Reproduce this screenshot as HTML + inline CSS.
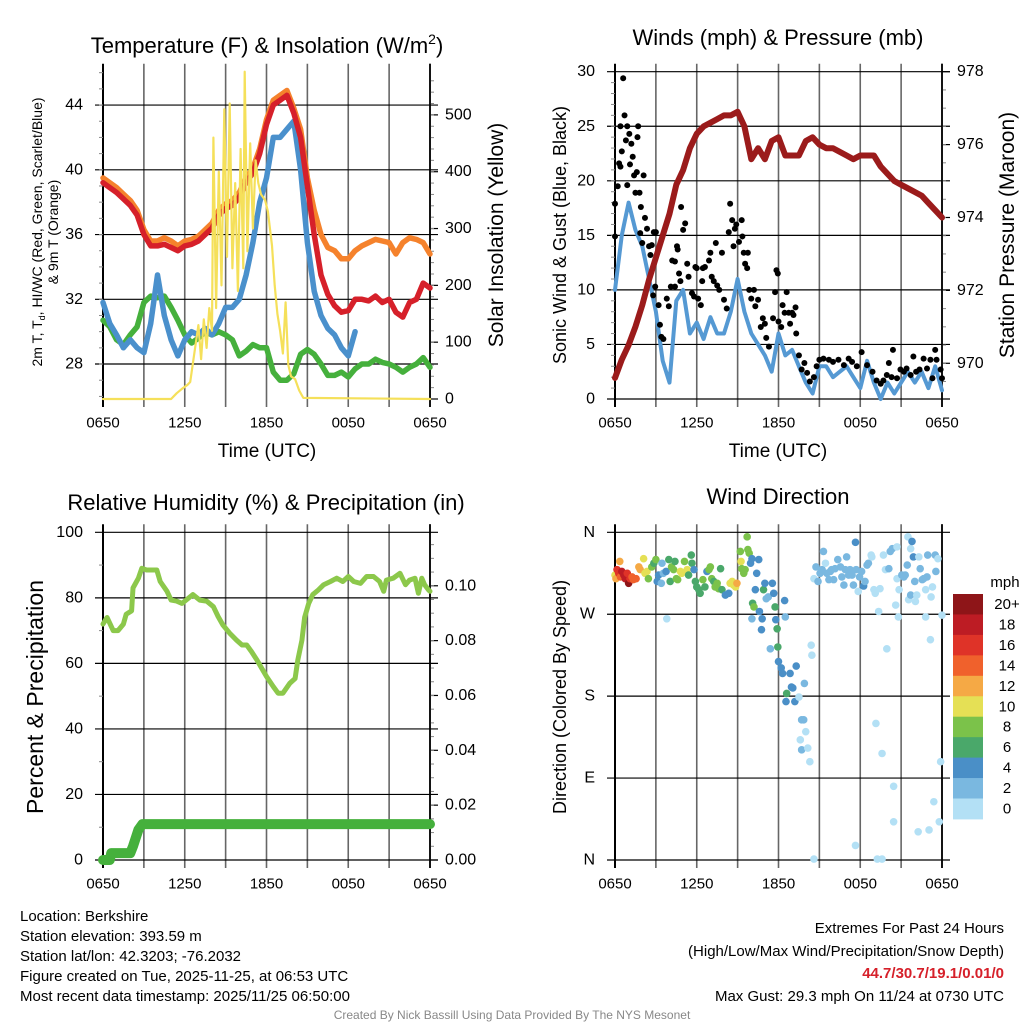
<!DOCTYPE html>
<html><head><meta charset="utf-8"><style>
html,body{margin:0;padding:0;background:#fff;}
svg{display:block;font-family:"Liberation Sans",Arial,sans-serif;}
</style></head><body>
<svg id="c" width="1024" height="1024" viewBox="0 0 1024 1024"></svg>
<script>
// ---------- DATA ----------
const xTickLabels = ["0650","1250","1850","0050","0650"];
const halfHours = [0,0.5,1,1.5,2,2.5,3,3.5,4,4.5,5,5.5,6,6.5,7,7.5,8,8.5,9,9.5,10,10.5,11,11.5,12,12.5,13,13.5,14,14.5,15,15.5,16,16.5,17,17.5,18,18.5,19,19.5,20,20.5,21,21.5,22,22.5,23,23.5,24];
const temp2m = [39.2,38.9,38.6,38.2,37.8,37.2,36,35.3,35.3,35.4,35.2,35.0,35.3,35.4,35.6,36.0,36.4,37.2,37.6,37.8,38.3,39.2,39.8,41.0,42.8,44.0,44.3,44.6,43.5,42.0,39.0,36.0,33.5,32.3,31.6,31.2,31.3,32.0,32.0,31.9,32.2,31.8,32.0,31.2,30.9,31.8,32.0,33.0,32.7];
const temp9m = [39.5,39.2,38.9,38.5,38.1,37.5,36.3,35.6,35.6,35.8,35.6,35.3,35.6,35.7,35.9,36.3,36.7,37.5,37.9,38.1,38.6,39.5,40.1,41.3,43.1,44.3,44.6,44.9,43.8,42.5,39.5,37.5,36.0,35.2,35.0,34.5,34.5,35.0,35.3,35.5,35.7,35.6,35.5,34.8,35.5,35.8,35.7,35.5,34.8];
const dewpoint = [30.7,30.3,29.5,29.2,29.8,30.3,31.8,32.2,32.1,32.2,31.5,30.7,29.8,29.3,29.6,30.0,29.8,30.0,29.8,29.5,28.5,28.8,29.2,29.0,29.0,27.5,27.0,27.0,27.4,28.6,28.9,28.6,28.0,27.3,27.3,27.5,27.2,27.7,28.0,28.0,28.3,28.1,28.0,27.8,27.5,27.8,28.0,28.4,27.8];
const windChill = [31.8,30.5,29.8,29.0,29.5,29.0,28.7,30.5,33.5,31.0,29.5,28.5,29.5,30.0,29.8,30.2,29.8,30.5,31.5,31.5,32.0,33.5,35.5,38.0,39.5,42.0,42.0,42.5,43.0,40.0,35.5,32.5,31.0,30.2,29.8,29.0,28.5,30.0,null,null,null,null,null,null,null,null,null,null,null];
const solarTimes = [0,5.0,5.4,5.8,6.2,6.4,6.7,7.0,7.2,7.4,7.6,7.8,8.0,8.1,8.3,8.5,8.7,8.9,9.1,9.3,9.5,9.7,9.9,10.1,10.3,10.4,10.6,10.8,11.0,11.2,11.4,11.6,11.9,12.1,12.4,12.6,12.8,13.0,13.2,13.4,13.6,13.8,14.1,14.4,14.7,24];
const solarVals = [0,0,10,18,25,30,80,130,70,140,90,160,120,460,160,400,200,510,250,520,230,380,190,440,230,576,260,450,300,420,380,360,350,330,270,200,150,120,80,170,60,40,35,15,2,0];
const pressure = [969.6,970.1,970.5,971.0,971.6,972.3,972.9,973.5,974.1,974.9,975.3,975.9,976.3,976.5,976.6,976.7,976.8,976.8,976.9,976.5,975.6,975.9,975.6,976.1,976.2,975.7,975.7,975.7,976.1,976.2,976.0,975.9,975.9,975.8,975.7,975.6,975.7,975.7,975.7,975.4,975.2,975.0,974.9,974.8,974.7,974.6,974.4,974.2,974.0];
const windSpeed = [10,15,18,15.5,14,11,8,3.5,1.5,9,10,6,7,5.5,7.5,6,6,8,11,8,6,5,4,2.5,6,4,4.5,3,1.5,0.5,3,3,2,2.5,3,2,1,3.5,1.5,0,1.5,0.5,1.5,2.5,1.5,2.5,1,3,0.8];
const gustTimes = [0,0,0.2,0.4,0.6,0.5,0.7,0.8,0.9,0.3,0.4,1.05,1.1,1.2,1.3,0.9,1.4,1.6,1.7,1.65,1.5,1.8,1.9,2.1,2.2,1.85,2.0,2.35,2.5,2.6,2.7,2.85,3.0,2.95,2.8,3.2,3.3,3.4,3.55,3.8,3.95,4.1,4.4,4.2,4.4,4.55,4.6,4.7,4.85,5.0,5.15,4.8,5.3,5.4,5.65,5.8,5.9,6.0,6.1,6.3,6.45,6.6,6.4,6.9,7.0,7.1,7.25,7.4,7.5,7.65,7.85,8.0,8.2,8.35,8.45,8.6,8.7,8.8,8.9,9.1,9.3,9.35,9.45,9.55,9.7,9.75,9.85,10.0,10.2,10.3,10.5,10.7,10.85,11.0,11.1,11.3,11.6,11.75,11.85,11.95,12.0,12.2,12.3,12.45,12.6,12.75,12.85,13.0,13.1,13.25,13.3,13.5,13.7,13.9,14.1,14.3,14.6,14.8,15.0,15.3,15.7,16.0,16.4,16.8,17.15,17.4,17.75,18.1,18.5,18.9,19.2,19.5,19.7,19.95,20.1,20.3,20.4,20.7,20.95,21.2,21.4,21.7,21.9,22.1,22.35,22.65,22.9,23.15,23.3,23.5,23.6,23.9,24];
const gustVals = [17.9,14.9,19.5,25,29.4,22.7,26,23.7,25,21.6,21.3,24.3,21.5,23.4,22.2,19.6,20.5,20.8,25,24,18.9,18.9,17.6,20.5,16.6,15.2,14.3,15.6,14.0,13.2,14.1,15.3,15.3,10.3,9.5,8.6,6.8,5.7,5.5,9.2,8.5,10.3,10.3,12.7,12.6,14,13.7,11.5,17.6,15.5,16.1,10.8,12.4,11.2,9.7,9.4,12.1,12,9.2,8.6,12,12.1,10.8,12.7,13.4,11.2,10.8,14.3,10.4,10,13.4,9.1,8.3,15.3,17.9,16.4,14,15.6,16,14.4,16.4,14.9,13.4,12.4,12,13.4,10,9.2,10,8.5,9.1,6.6,7.4,6.9,5.6,4.8,7.4,9.8,11.8,11.5,7.1,6.6,8.6,7.9,9.8,7.9,6.9,7.9,7.7,8.4,6.0,4.0,2.7,3.3,2.4,1.6,2.0,3.0,3.6,3.7,3.6,3.4,3.6,3.1,3.7,3.4,3.0,4.3,3.1,2.5,1.7,1.4,1.7,2.2,3.3,2.0,4.5,1.9,2.7,2.5,2.8,2.2,3.9,2.5,2.7,3.7,2.8,3.6,1.9,4.5,3.6,2.7,1.9];
const rhTimes = [0,0.3,0.75,1.1,1.5,1.7,2.1,2.2,2.6,2.85,3.2,3.7,3.95,4.2,4.7,5.0,5.4,5.8,6.1,6.6,7.1,7.6,8.1,8.45,8.8,9.3,9.8,10.2,10.55,10.9,11.3,11.65,12.0,12.5,12.85,13.2,13.7,14.1,14.3,14.6,14.8,15.1,15.4,15.8,16.2,16.7,17.15,17.6,18.0,18.4,18.9,19.35,19.85,20.3,20.6,20.8,21.3,21.8,22.2,22.5,22.9,23.15,23.4,23.6,23.9,24];
const rhVals = [72,74,70,70,72,75,76,83,86,89,88.5,88.5,88.5,85,82,79.3,79,78.3,79.3,81,79.3,79,77.3,74.3,71.7,69.2,67.1,65.6,65.6,63.6,61,58.5,56,52.9,50.9,50.9,53.9,55.4,61,67,74,78.3,81,82.4,84,85,86,85,86.5,85,84.4,86.5,86.5,85,82,85.4,86,87.5,84,85.4,86,81.4,86,84,82.4,82];
const precipTimes = [0,0.5,0.6,2.0,2.2,2.4,2.6,2.9,24];
const precipVals = [0,0,0.0025,0.0025,0.005,0.008,0.011,0.0131,0.0131];
const dirTimes = [0,0.07,0.15,0.27,0.4,0.5,0.65,0.75,0.9,1.0,1.1,1.25,1.35,1.55,0.35,1.75,1.85,2.1,2.2,2.35,2.45,2.7,2.85,3.0,3.1,3.2,3.4,3.45,3.55,3.75,3.8,3.95,4.05,4.15,4.3,4.4,4.5,4.6,4.8,4.9,5.1,5.3,5.4,5.6,5.65,5.8,5.9,6.0,6.15,6.25,6.45,6.6,6.75,6.9,7.0,7.1,7.25,7.35,7.5,7.6,7.75,7.85,8.1,8.35,8.45,8.6,8.7,8.85,8.95,9.2,9.25,9.3,9.45,9.55,9.7,9.75,9.85,9.95,10.05,10.3,10.4,10.55,10.1,10.2,10.6,10.05,10.8,10.75,10.9,11.0,11.1,11.25,11.4,11.55,11.65,11.75,11.8,11.9,11.95,12.0,12.2,12.3,12.45,12.5,12.6,12.55,12.95,13.05,13.2,12.85,13.3,13.5,13.7,13.85,13.9,14.0,13.6,13.7,14.15,14.3,14.4,14.45,14.6,14.6,14.75,14.9,15.05,15.2,15.3,15.45,15.55,15.7,15.8,15.9,16.05,16.15,16.35,16.55,16.65,16.8,16.9,17.0,17.15,17.25,17.4,17.5,17.65,17.7,17.85,17.95,18.1,18.25,18.35,18.5,18.6,18.8,18.85,19.0,19.1,19.15,19.35,19.45,19.6,19.25,19.6,17.65,19.7,19.85,19.95,20.1,20.2,20.35,20.45,20.45,20.6,20.7,20.7,20.8,20.85,21.05,21.2,21.3,21.45,21.5,21.7,21.8,21.55,21.7,21.9,22.0,22.05,22.15,22.25,22.3,22.4,22.55,22.65,22.8,22.8,22.9,22.95,23.05,23.15,23.2,23.3,23.4,23.5,23.55,23.7,23.8,23.9,24.0];
const dirVals = [313,309,319,315,311,317,313,309,315,304,309,311,308,309,328,322,319,331,315,317,309,322,326,330,306,313,304,326,315,317,265,330,306,322,319,328,309,308,317,315,328,319,313,335,326,319,306,300,297,293,308,300,317,319,322,309,306,300,304,298,320,297,291,293,304,306,302,300,304,339,328,320,315,319,355,341,337,326,331,297,315,330,282,278,273,265,265,253,297,304,287,289,232,304,293,278,264,254,234,218,211,205,285,267,183,174,190,189,174,205,213,179,154,154,194,141,132,121,123,108,236,225,1,309,322,306,315,319,339,326,315,308,317,319,308,320,330,322,311,302,319,333,313,319,313,302,349,319,295,311,317,301,306,324,326,335,333,297,293,150,273,298,117,1,1,16,335,319,232,320,339,342,81,42,280,309,344,267,297,313,311,313,324,355,342,350,286,291,333,306,284,291,31,333,320,308,309,267,297,311,335,33,242,289,300,64,335,317,331,42,108,269];
const dirSpeeds = [10,12,16,16,14,18,18,18,16,20,16,14,14,14,12,12,12,10,10,10,8,8,6,8,4,4,2,2,2,4,0,6,6,8,8,6,8,8,10,10,8,10,6,6,6,4,6,6,6,6,8,6,4,8,8,8,6,8,8,8,6,6,4,4,10,10,10,10,12,8,10,8,8,8,8,8,8,4,4,4,4,4,6,8,4,2,4,4,6,4,2,2,2,4,4,6,4,6,6,4,4,4,4,2,6,4,4,4,4,4,4,0,2,2,2,0,0,2,0,0,0,0,0,0,2,2,2,2,2,0,2,2,2,2,2,2,2,2,2,2,2,2,2,2,2,2,4,2,0,2,2,4,2,2,2,0,0,0,0,0,0,0,0,0,0,0,0,0,0,2,2,2,0,0,0,0,0,0,0,2,2,2,2,0,0,4,0,2,4,2,0,0,0,0,2,2,2,0,0,2,2,0,0,0,0,0,2,2,0,0,0,0];
const cbLabels = ["20+","18","16","14","12","10","8","6","4","2","0"];
const cbColors = ["#8e1518","#bd1c24","#df3328","#f0612c","#f5a945","#e5e055","#7bc24a","#4aa86a","#4a8fc7","#7ab8e0","#b3e0f5"];

// ---------- HELPERS ----------
const svg = document.getElementById('c');
const NS = 'http://www.w3.org/2000/svg';
function mk(tag, attrs, parent){ const e=document.createElementNS(NS,tag); for(const k in attrs) e.setAttribute(k,attrs[k]); (parent||svg).appendChild(e); return e; }
function txt(x,y,s,size,anchor,extra){ const t=mk('text',Object.assign({x:x,y:y,'font-size':size,'text-anchor':anchor||'middle','dominant-baseline':'central',fill:'#000'},extra||{})); t.textContent=s; return t; }
function scale(d0,d1,r0,r1){ return v=>r0+(v-d0)*(r1-r0)/(d1-d0); }

function frame(P, leftTicks, leftLab, rightTicks, rightLab, leftMinor, rightMinor, name){
  const g = mk('g',{});
  
  
  for(let i=0;i<=8;i++){ const x=P.x0+(P.x1-P.x0)*i/8;
    const l=mk('line',{x1:x,x2:x,y1:P.y0-8,y2:P.y1+8,stroke:(i==0||i==8)?'#000':'#666','stroke-width':(i==0)?2:1.6},g);
      }
  leftTicks.forEach((v,i)=>{ const y=P.yl(v);
    const l=mk('line',{x1:P.x0-8,x2:P.x1+8,y1:y,y2:y,stroke:'#000','stroke-width':1.2},g);
     
    const t=txt(P.x0-20,y,leftLab[i],16,'end');   });
  rightTicks.forEach((v,i)=>{ const y=P.yr(v);
    const l=mk('line',{x1:P.x1,x2:P.x1+8,y1:y,y2:y,stroke:'#000','stroke-width':1.2},g);
     
    const t=txt(P.x1+15,y,rightLab[i],16,'start');   });
  leftMinor.forEach(v=>{ const y=P.yl(v); mk('line',{x1:P.x0-4,x2:P.x0,y1:y,y2:y,stroke:'#888','stroke-width':1},g); });
  rightMinor.forEach(v=>{ const y=P.yr(v); mk('line',{x1:P.x1,x2:P.x1+4,y1:y,y2:y,stroke:'#888','stroke-width':1},g); });
  mk('line',{x1:P.x1,x2:P.x1,y1:P.y0-8,y2:P.y1+8,stroke:'#000','stroke-width':1.6},g);
  xTickLabels.forEach((s,i)=>{ const t=txt(P.x0+(P.x1-P.x0)*i/4,P.y1+24,s,15);   });
}
function line(P,ys,xs,vals,color,w,name){
  let d='',pen=false;
  xs.forEach((h,i)=>{ const v=vals[i]; if(v===null){pen=false;return;} d+=(pen?'L':'M')+P.xs(h).toFixed(1)+','+ys(v).toFixed(1); pen=true; });
  const p=mk('path',{d:d,fill:'none',stroke:color,'stroke-width':w,'stroke-linejoin':'round','stroke-linecap':'round'});
    return p;
}
function range(a,b,s){ const r=[]; for(let v=a;v<=b+1e-9;v+=s) r.push(+v.toFixed(4)); return r; }

// ---------- PANEL 1 ----------
const P1={x0:103,x1:430,y0:71.7,y1:399};
P1.xs=scale(0,24,P1.x0,P1.x1); P1.yl=scale(25.84,46.06,P1.y1,P1.y0); P1.yr=scale(0,576,P1.y1,P1.y0);
frame(P1,[28,32,36,40,44],["28","32","36","40","44"],[0,100,200,300,400,500],["0","100","200","300","400","500"],range(26,46,1),range(20,560,20),'temperature');
line(P1,P1.yl,halfHours,dewpoint,'#45b03c',5.5,'dewpoint-line');
line(P1,P1.yl,halfHours,windChill,'#4a90cc',5.5,'windchill-line');
line(P1,P1.yl,halfHours,temp9m,'#f5822c',5.5,'temp-9m-line');
line(P1,P1.yl,halfHours,temp2m,'#d6202a',5.5,'temp-2m-line');
line(P1,P1.yr,solarTimes,solarVals,'#f5e05a',2.2,'solar-insolation-line');

// ---------- PANEL 2 ----------
const P2={x0:615,x1:942,y0:71.7,y1:399};
P2.xs=scale(0,24,P2.x0,P2.x1); P2.yl=scale(0,30,P2.y1,P2.y0); P2.yr=scale(969.02,978,P2.y1,P2.y0);
frame(P2,[0,5,10,15,20,25,30],["0","5","10","15","20","25","30"],[970,972,974,976,978],["970","972","974","976","978"],range(1,29,1),range(969.5,977.5,0.5),'winds');
line(P2,P2.yl,halfHours,windSpeed,'#5599d3',4,'sonic-wind-line');
gustTimes.forEach((h,i)=>{ const c=mk('circle',{cx:P2.xs(h),cy:P2.yl(gustVals[i]),r:3,fill:'#000'});
  
   });
line(P2,P2.yr,halfHours,pressure,'#9b1b1b',6,'pressure-line');

// ---------- PANEL 3 ----------
const P3={x0:103,x1:430,y0:532.3,y1:860};
P3.xs=scale(0,24,P3.x0,P3.x1); P3.yl=scale(0,100,P3.y1,P3.y0); P3.yr=scale(0,0.1195,P3.y1,P3.y0);
frame(P3,[0,20,40,60,80,100],["0","20","40","60","80","100"],[0,0.02,0.04,0.06,0.08,0.1],["0.00","0.02","0.04","0.06","0.08","0.10"],range(10,90,20),range(0.005,0.115,0.005),'humidity');
line(P3,P3.yl,rhTimes,rhVals,'#8cc84b',5,'relative-humidity-line');
line(P3,P3.yr,precipTimes,precipVals,'#45b03c',10,'precipitation-line');

// ---------- PANEL 4 ----------
const P4={x0:615,x1:942,y0:532.3,y1:860};
P4.xs=scale(0,24,P4.x0,P4.x1); P4.yl=scale(0,360,P4.y1,P4.y0); P4.yr=P4.yl;
frame(P4,[0,90,180,270,360],["N","E","S","W","N"],[],[],[],[],'wind-direction');
function speedColor(s){ let k=Math.min(10,Math.floor(s/2)); return cbColors[10-k]; }
dirTimes.forEach((h,i)=>{ const c=mk('circle',{cx:P4.xs(h),cy:P4.yl(dirVals[i]),r:3.8,fill:speedColor(dirSpeeds[i])});
  
   });
cbColors.forEach((col,i)=>{ const r=mk('rect',{x:953,y:594+i*20.45,width:30,height:20.9,fill:col});
  
  
  const t=txt(1007,594+i*20.45+10.5,cbLabels[i],15);
  
   });
</script>
<svg style="position:absolute;left:0;top:0" width="1024" height="1024" font-family="Liberation Sans, Arial, sans-serif">
 <text x="267" y="53" font-size="22" text-anchor="middle">Temperature (F) &amp; Insolation (W/m<tspan font-size="14" dy="-9">2</tspan><tspan dy="9">)</tspan></text>
 <text x="778" y="45" font-size="22" text-anchor="middle">Winds (mph) &amp; Pressure (mb)</text>
 <text x="266" y="510" font-size="22" text-anchor="middle">Relative Humidity (%) &amp; Precipitation (in)</text>
 <text x="778" y="504" font-size="22" text-anchor="middle">Wind Direction</text>
 <text x="267" y="457" font-size="19" text-anchor="middle">Time (UTC)</text>
 <text x="778" y="457" font-size="19" text-anchor="middle">Time (UTC)</text>
 <text transform="translate(42,232) rotate(-90)" font-size="14" text-anchor="middle">2m T, T<tspan font-size="9" dy="3">d</tspan><tspan dy="-3">, HI/WC (Red, Green, Scarlet/Blue)</tspan></text>
 <text transform="translate(58,232) rotate(-90)" font-size="14" text-anchor="middle">&amp; 9m T (Orange)</text>
 <text transform="translate(503,235) rotate(-90)" font-size="21" text-anchor="middle">Solar Insolation (Yellow)</text>
 <text transform="translate(566,235) rotate(-90)" font-size="18" text-anchor="middle">Sonic Wind &amp; Gust (Blue, Black)</text>
 <text transform="translate(1014,235) rotate(-90)" font-size="21" text-anchor="middle">Station Pressure (Maroon)</text>
 <text transform="translate(43,697) rotate(-90)" font-size="23" text-anchor="middle">Percent &amp; Precipitation</text>
 <text transform="translate(566,697) rotate(-90)" font-size="18" text-anchor="middle">Direction (Colored By Speed)</text>
 <text x="1005" y="587" font-size="15" text-anchor="middle">mph</text>
 <g font-size="15">
  <text x="20" y="921">Location: Berkshire</text>
  <text x="20" y="941">Station elevation: 393.59 m</text>
  <text x="20" y="961">Station lat/lon: 42.3203; -76.2032</text>
  <text x="20" y="981">Figure created on Tue, 2025-11-25, at 06:53 UTC</text>
  <text x="20" y="1001">Most recent data timestamp: 2025/11/25 06:50:00</text>
 </g>
 <g font-size="15" text-anchor="end">
  <text x="1004" y="933">Extremes For Past 24 Hours</text>
  <text x="1004" y="956">(High/Low/Max Wind/Precipitation/Snow Depth)</text>
  <text x="1004" y="978" fill="#d6202a" font-weight="bold">44.7/30.7/19.1/0.01/0</text>
  <text x="1004" y="1001">Max Gust: 29.3 mph On 11/24 at 0730 UTC</text>
 </g>
 <text x="512" y="1019" font-size="12" fill="#888" text-anchor="middle">Created By Nick Bassill Using Data Provided By The NYS Mesonet</text>
</svg>
</body></html>
